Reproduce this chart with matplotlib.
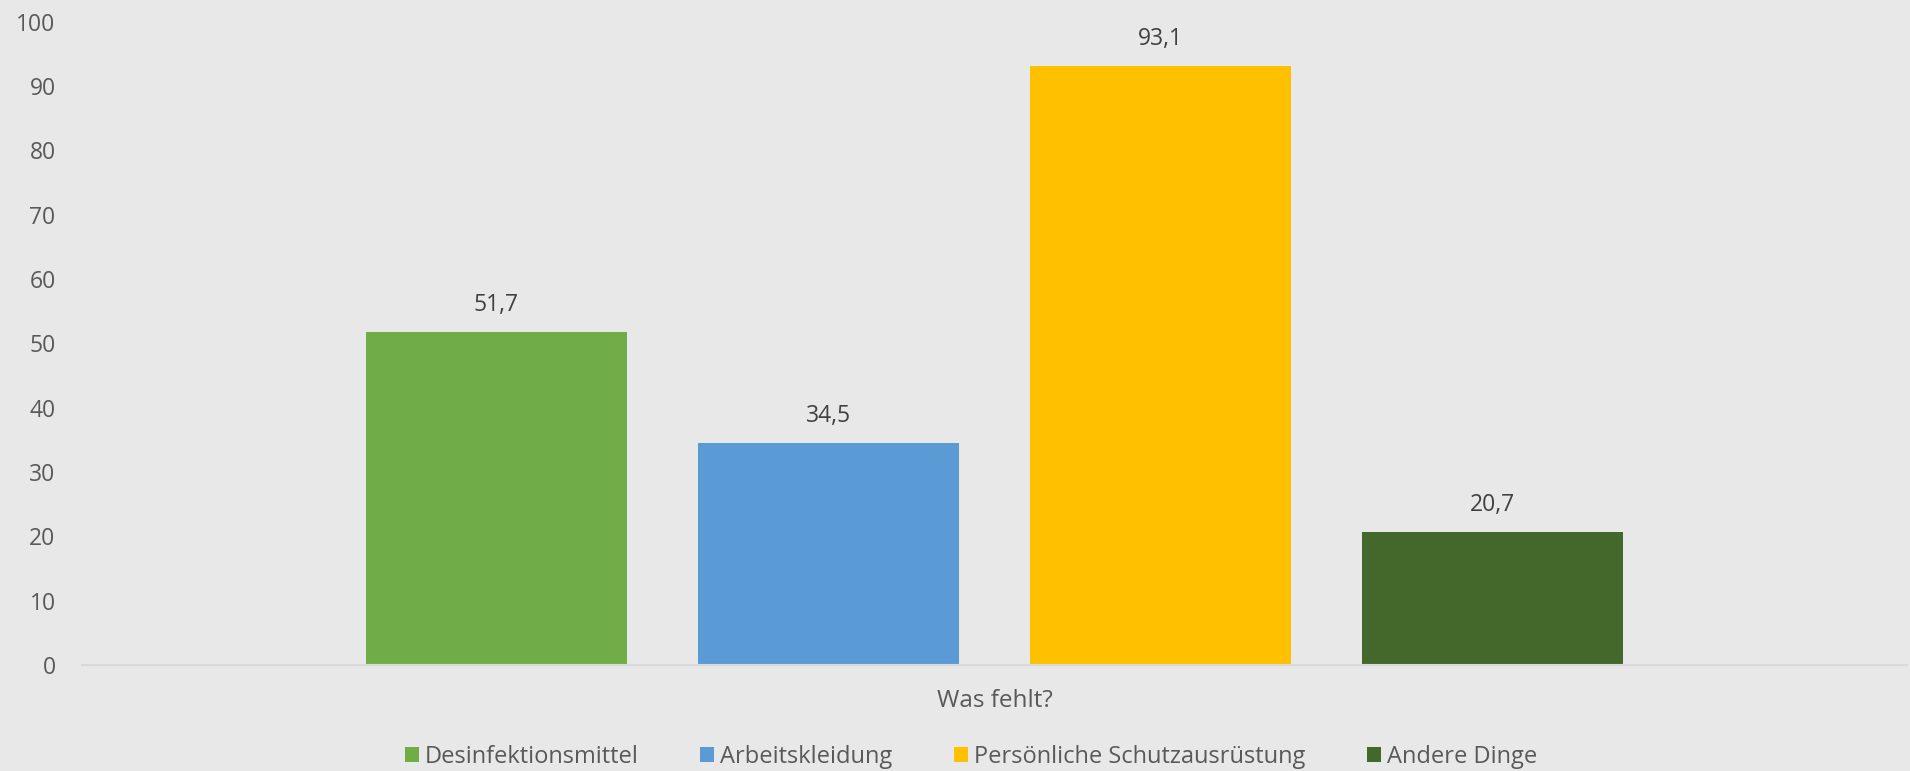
import matplotlib.pyplot as plt
from matplotlib.patches import Patch

# data
categories = ['Desinfektionsmittel', 'Arbeitskleidung', 'Persönliche Schutzausrüstung', 'Andere Dinge']
values = [51.7, 34.5, 93.1, 20.7]
value_labels = ['51,7', '34,5', '93,1', '20,7']
colors = ['#70AD47', '#5B9BD5', '#FFC000', '#43682B']
y_ticks = [0, 10, 20, 30, 40, 50, 60, 70, 80, 90, 100]
x_title = 'Was fehlt?'

bg = '#e7e8e7'
text_col = '#595959'

plt.rcParams['font.family'] = ['Open Sans', 'DejaVu Sans']

W, H = 1910, 771
fig = plt.figure(figsize=(W / 100, H / 100), dpi=100, facecolor=bg)
ax = fig.add_axes([82 / W, 1 - 665 / H, (1907 - 82) / W, (665 - 21.6) / H])
ax.set_facecolor(bg)

x = list(range(len(values)))
bar_w = 261 / 332
bars = ax.bar(x, values, width=bar_w, color=colors, zorder=2)

for b, lab in zip(bars, value_labels):
    ax.annotate(lab, (b.get_x() + b.get_width() / 2, b.get_height()),
                xytext=(0, 11), textcoords='offset points',
                ha='center', va='bottom', fontsize=16.5, color='#404040')

ax.set_xlim(-1.248, 4.248)
ax.set_ylim(0, 100)
ax.set_yticks(y_ticks)
ax.tick_params(axis='y', length=0, pad=19, labelsize=16.5, labelcolor=text_col)
ax.set_xticks([])

for side in ['top', 'right', 'left']:
    ax.spines[side].set_visible(False)
ax.spines['bottom'].set_color('#d9d9d9')
ax.spines['bottom'].set_linewidth(1.5)

fig.text(995 / W, 1 - 701 / H, x_title, ha='center', va='center',
         fontsize=17.5, color=text_col)

handles = [Patch(facecolor=c, label=l) for c, l in zip(colors, categories)]
fig.legend(handles=handles, loc='center', bbox_to_anchor=(971 / W, 1 - 757 / H),
           ncol=4, frameon=False, fontsize=17, labelcolor=text_col,
           handlelength=0.6, handleheight=0.6, handletextpad=0.25, columnspacing=2.6)

fig.savefig('out.png', dpi=100, facecolor=bg)
